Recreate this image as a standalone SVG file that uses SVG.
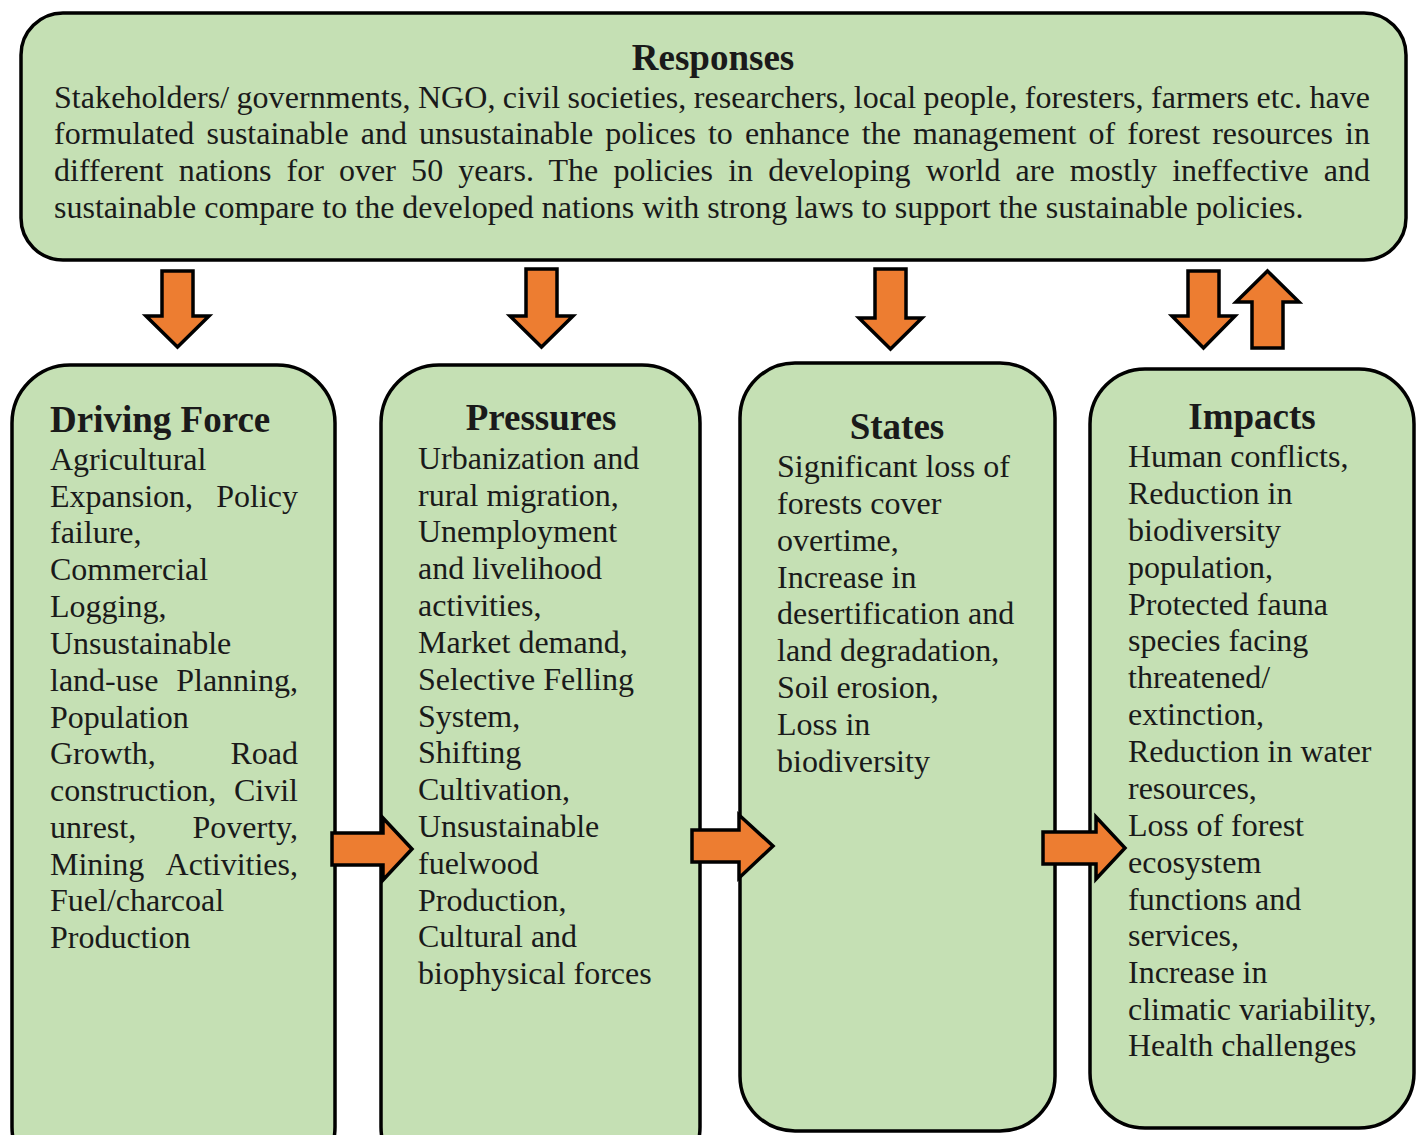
<svg xmlns="http://www.w3.org/2000/svg" width="1418" height="1135" viewBox="0 0 1418 1135">
<style>
.box{fill:#c5e0b4;stroke:#000;stroke-width:3.5}
.arr{fill:#ed7d31;stroke:#000;stroke-width:3.5;stroke-linejoin:miter}
.t{font-family:"Liberation Serif","Times New Roman",serif;font-size:32px;fill:#1a1a1a}
.b{font-family:"Liberation Serif","Times New Roman",serif;font-size:32px;fill:#1a1a1a}
.r{text-anchor:end}
.h{font-family:"Liberation Serif","Times New Roman",serif;font-size:37px;font-weight:bold;fill:#1a1a1a;text-anchor:middle}
</style>
<rect width="1418" height="1135" fill="#fff"/>
<g id="responses">
<rect class="box" x="21" y="13" width="1385" height="247" rx="42"/>
<text class="h" x="713" y="70">Responses</text>
<text class="t" x="54" y="108" word-spacing="-0.75" textLength="1316" lengthAdjust="spacing">Stakeholders/ governments, NGO, civil societies, researchers, local people, foresters, farmers etc. have</text>
<text class="t" x="54" y="144" word-spacing="4.1" textLength="1316" lengthAdjust="spacing">formulated sustainable and unsustainable polices to enhance the management of forest resources in</text>
<text class="t" x="54" y="181" word-spacing="7.1" textLength="1316" lengthAdjust="spacing">different nations for over 50 years. The policies in developing world are mostly ineffective and</text>
<text class="t" x="54" y="218">sustainable compare to the developed nations with strong laws to support the sustainable policies.</text>
</g>
<g id="driving-force">
<rect class="box" x="12" y="365" width="323" height="820" rx="58"/>
<text class="h" x="50" y="432" style="text-anchor:start">Driving Force</text>
<text class="b" x="50" y="470">Agricultural</text>
<text class="b" x="50" y="507">Expansion,</text><text class="b r" x="298" y="507">Policy</text>
<text class="b" x="50" y="543">failure,</text>
<text class="b" x="50" y="580">Commercial</text>
<text class="b" x="50" y="617">Logging,</text>
<text class="b" x="50" y="654">Unsustainable</text>
<text class="b" x="50" y="691">land-use</text><text class="b r" x="298" y="691">Planning,</text>
<text class="b" x="50" y="728">Population</text>
<text class="b" x="50" y="764">Growth,</text><text class="b r" x="298" y="764">Road</text>
<text class="b" x="50" y="801">construction,</text><text class="b r" x="298" y="801">Civil</text>
<text class="b" x="50" y="838">unrest,</text><text class="b r" x="298" y="838">Poverty,</text>
<text class="b" x="50" y="875">Mining</text><text class="b r" x="298" y="875">Activities,</text>
<text class="b" x="50" y="911">Fuel/charcoal</text>
<text class="b" x="50" y="948">Production</text>
</g>
<g id="pressures">
<rect class="box" x="381" y="365" width="319" height="820" rx="58"/>
<text class="h" x="541" y="430">Pressures</text>
<text class="b" x="418" y="469">Urbanization and</text>
<text class="b" x="418" y="506">rural migration,</text>
<text class="b" x="418" y="542">Unemployment</text>
<text class="b" x="418" y="579">and livelihood</text>
<text class="b" x="418" y="616">activities,</text>
<text class="b" x="418" y="653">Market demand,</text>
<text class="b" x="418" y="690">Selective Felling</text>
<text class="b" x="418" y="727">System,</text>
<text class="b" x="418" y="763">Shifting</text>
<text class="b" x="418" y="800">Cultivation,</text>
<text class="b" x="418" y="837">Unsustainable</text>
<text class="b" x="418" y="874">fuelwood</text>
<text class="b" x="418" y="911">Production,</text>
<text class="b" x="418" y="947">Cultural and</text>
<text class="b" x="418" y="984">biophysical forces</text>
</g>
<g id="states">
<rect class="box" x="740" y="363" width="315" height="768" rx="55"/>
<text class="h" x="897" y="439">States</text>
<text class="b" x="777" y="477">Significant loss of</text>
<text class="b" x="777" y="514">forests cover</text>
<text class="b" x="777" y="551">overtime,</text>
<text class="b" x="777" y="588">Increase in</text>
<text class="b" x="777" y="624">desertification and</text>
<text class="b" x="777" y="661">land degradation,</text>
<text class="b" x="777" y="698">Soil erosion,</text>
<text class="b" x="777" y="735">Loss in</text>
<text class="b" x="777" y="772">biodiversity</text>
</g>
<g id="impacts">
<rect class="box" x="1090" y="369" width="324" height="759" rx="55"/>
<text class="h" x="1252" y="429">Impacts</text>
<text class="b" x="1128" y="467">Human conflicts,</text>
<text class="b" x="1128" y="504">Reduction in</text>
<text class="b" x="1128" y="541">biodiversity</text>
<text class="b" x="1128" y="578">population,</text>
<text class="b" x="1128" y="615">Protected fauna</text>
<text class="b" x="1128" y="651">species facing</text>
<text class="b" x="1128" y="688">threatened/</text>
<text class="b" x="1128" y="725">extinction,</text>
<text class="b" x="1128" y="762">Reduction in water</text>
<text class="b" x="1128" y="799">resources,</text>
<text class="b" x="1128" y="836">Loss of forest</text>
<text class="b" x="1128" y="873">ecosystem</text>
<text class="b" x="1128" y="910">functions and</text>
<text class="b" x="1128" y="946">services,</text>
<text class="b" x="1128" y="983">Increase in</text>
<text class="b" x="1128" y="1020">climatic variability,</text>
<text class="b" x="1128" y="1056">Health challenges</text>
</g>
<g id="connectors">
<path class="arr" d="M162,271 H193 V316 H209 L177.5,347 L146,316 H162 Z"/>
<path class="arr" d="M526,269 H557 V316 H573 L541.5,347 L510,316 H526 Z"/>
<path class="arr" d="M875,269 H906 V318 H922 L890.5,349 L859,318 H875 Z"/>
<path class="arr" d="M1188,271 H1219 V316 H1235 L1203.5,348 L1172,316 H1188 Z"/>
<path class="arr" d="M1252,348 H1283 V302 H1299 L1267.5,271 L1236,302 H1252 Z"/>
<path class="arr" d="M332,833 H383 V818 L412,849 L383,880 V865 H332 Z"/>
<path class="arr" d="M692,830 H739 V815 L773,846 L739,878 V862 H692 Z"/>
<path class="arr" d="M1043,832 H1096 V817 L1125,848 L1096,879 V864 H1043 Z"/>
</g>
</svg>
